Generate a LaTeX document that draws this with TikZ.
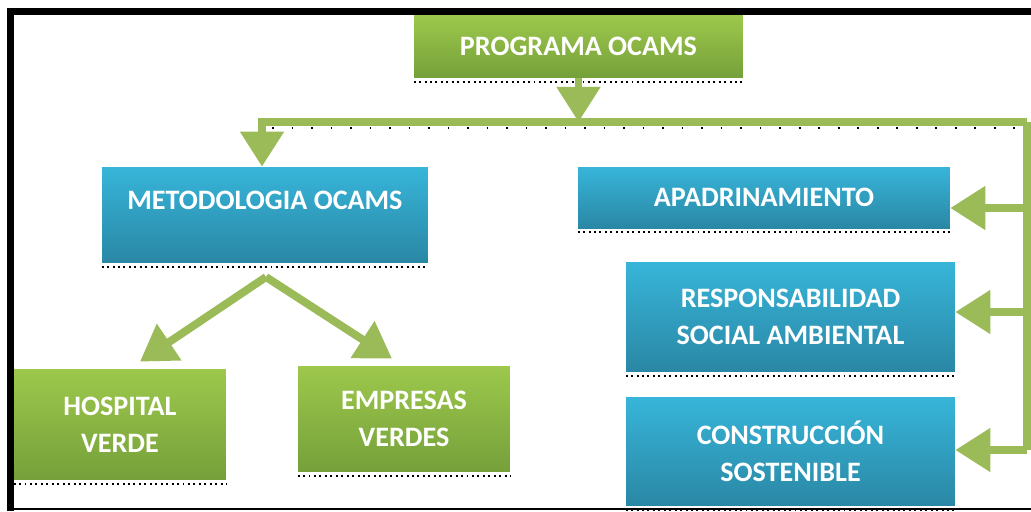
\documentclass[tikz,border=0pt]{standalone}
\usepackage{fontspec}
\setmainfont{Carlito}
\usetikzlibrary{arrows.meta, positioning}

\definecolor{grtop}{HTML}{9DC84C}
\definecolor{grbot}{HTML}{75A03A}
\definecolor{bltop}{HTML}{37B5D9}
\definecolor{blbot}{HTML}{2A87A5}
\definecolor{linkgreen}{HTML}{9BBB59}

\begin{document}
\begin{tikzpicture}[x=0.02cm, y=-0.02cm, font=\fontsize{16}{21}\selectfont\bfseries,
greenbox/.style={rectangle, top color=grtop, bottom color=grbot, text=white, align=center, inner sep=0pt},
bluebox/.style={rectangle, top color=bltop, bottom color=blbot, text=white, align=center, inner sep=0pt},
link/.style={draw=linkgreen, line width=4.5pt},
tip/.style={-{Triangle[length=20pt, width=24pt]}},
shadowdots/.style={black, dotted, line width=1.1pt}
]
\useasboundingbox (0,0) rectangle (1031,511);

% boxes
\node[greenbox, minimum width=6.58cm, minimum height=1.26cm] (prog) at (578.5,46.5) {PROGRAMA OCAMS};
\node[bluebox, minimum width=6.52cm, minimum height=1.92cm,
label={[text=white, yshift=0.3cm]center:METODOLOGIA OCAMS}] (metod) at (265,215) {};
\node[bluebox, minimum width=7.44cm, minimum height=1.22cm] (apad) at (764,197.5) {APADRINAMIENTO};
\node[bluebox, minimum width=6.58cm, minimum height=2.2cm] (resp) at (790.5,317) {RESPONSABILIDAD\\SOCIAL AMBIENTAL};
\node[bluebox, minimum width=6.58cm, minimum height=2.18cm] (cons) at (790.5,451.5) {CONSTRUCCIÓN\\SOSTENIBLE};
\node[greenbox, minimum width=4.24cm, minimum height=2.22cm] (hosp) at (120,424.5) {HOSPITAL\\VERDE};
\node[greenbox, minimum width=4.24cm, minimum height=2.12cm] (emp) at (404,419) {EMPRESAS\\VERDES};

% dotted shadow under the boxes
\foreach \b in {prog,metod,apad,resp,cons,hosp,emp}
\draw[shadowdots] ([yshift=-2pt]\b.south west) -- ([yshift=-2pt]\b.south east);

% bus
\coordinate (busL) at (262,122);
\coordinate (busR) at (1027,122);
\coordinate (jA) at (1027,208);
\coordinate (jR) at (1027,312);
\coordinate (jC) at (1027,450);
\coordinate (apex) at (266,277);

\draw[link, tip] (prog.south) -- (prog.south |- busL);
\draw[link, tip] (busR) -- (busL) -- (busL |- metod.north);
\draw[link] (busR) -- (jC);
\draw[link, tip] (jA) -- (jA -| apad.east);
\draw[link, tip] (jR) -- (jR -| resp.east);
\draw[link, tip] (jC) -- (jC -| cons.east);
\draw[shadowdots, dash pattern=on 1.1pt off 10pt] (busL) ++(10,6) -- (1022,128);

% tree below
\draw[link, tip] (apex) -- ([xshift=0.4cm, yshift=4pt]hosp.north);
\draw[link, tip] (apex) -- ([xshift=-0.24cm, yshift=4pt]emp.north);

% frame
\draw[line width=4pt] (10.5,511) -- (10.5,11.5) -- (1031,11.5);
\draw[line width=1.2pt] (12,509) -- (1031,509);

\end{tikzpicture}
\end{document}
